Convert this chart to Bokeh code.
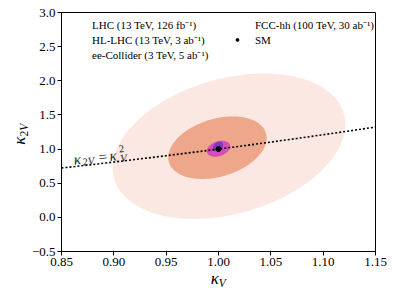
import numpy as np
from bokeh.plotting import figure
from bokeh.layouts import row, column
from bokeh.models import (Range1d, FixedTicker, Legend, LegendItem, Label, Div)
from bokeh.embed import file_html
from bokeh.resources import INLINE

# ---------------- data ----------------
names = ["LHC (13 TeV, 126 fb⁻¹)", "HL-LHC (13 TeV, 3 ab⁻¹)",
         "ee-Collider (3 TeV, 5 ab⁻¹)", "FCC-hh (100 TeV, 30 ab⁻¹)"]
colors = ["#fbe8e3", "#efa78b", "#d94bb8", "#7b39c4"]
# ellipse regions: centre, half-extent along each axis, correlation
kv_center = [1.010, 0.999, 1.000, 0.9995]
k2v_center = [1.042, 1.020, 1.005, 1.039]
kv_halfwidth = [0.1111, 0.0470, 0.0111, 0.0049]
k2v_halfwidth = [1.064, 0.458, 0.117, 0.070]
correlation = [0.30, 0.31, 0.30, 0.30]

kv_line = [0.85, 0.875, 0.90, 0.925, 0.95, 0.975, 1.00, 1.025, 1.05, 1.075, 1.10, 1.125, 1.15]
k2v_line = [0.7225, 0.765625, 0.81, 0.855625, 0.9025, 0.950625, 1.0, 1.050625,
            1.1025, 1.155625, 1.21, 1.265625, 1.3225]

sm_kv = [1.0]
sm_k2v = [1.0]

xticks = [0.85, 0.90, 0.95, 1.00, 1.05, 1.10, 1.15]
yticks = [-0.5, 0.0, 0.5, 1.0, 1.5, 2.0, 2.5, 3.0]
xtick_labels = ["0.85", "0.90", "0.95", "1.00", "1.05", "1.10", "1.15"]
ytick_labels = ["−0.5", "0.0", "0.5", "1.0", "1.5", "2.0", "2.5", "3.0"]

SERIF = "Liberation Serif"

# ---------------- figure ----------------
p = figure(width=361, height=275, output_backend="svg", toolbar_location=None,
           x_range=Range1d(0.85, 1.15), y_range=Range1d(-0.5, 3.0),
           min_border_left=31, min_border_right=14, min_border_top=12, min_border_bottom=24)
p.grid.visible = False
p.outline_line_color = "black"
p.outline_line_width = 1
p.background_fill_color = "white"
p.border_fill_color = "white"

t = np.linspace(0, 2 * np.pi, 160)
xs, ys = [], []
for cx, cy, hx, hy, r in zip(kv_center, k2v_center, kv_halfwidth, k2v_halfwidth, correlation):
    xs.append(cx + hx * np.cos(t))
    ys.append(cy + hy * (r * np.cos(t) + np.sqrt(1 - r * r) * np.sin(t)))
regions = []
for i in range(4):
    regions.append(p.patch(xs[i], ys[i], fill_color=colors[i], line_color=None))

p.line(kv_line, k2v_line, line_color="black", line_width=1.6, line_dash="2 2")
sm = p.scatter(sm_kv, sm_k2v, size=5, color="black")

# axes
for ax, ticks, labs in ((p.xaxis, xticks, xtick_labels), (p.yaxis, yticks, ytick_labels)):
    ax.ticker = FixedTicker(ticks=ticks)
    ax.major_label_overrides = {tk: l for tk, l in zip(ticks, labs)}
    ax.major_tick_out = 4
    ax.major_tick_in = 0
    ax.minor_tick_line_color = None
    ax.axis_line_color = "black"
    ax.major_tick_line_color = "black"
    ax.major_label_text_font = SERIF
    ax.major_label_text_font_size = "13px"
    ax.major_label_text_color = "black"
    ax.major_label_standoff = 2

# legends (rectangular swatches via empty quads)
swatches = []
for c in colors:
    swatches.append(p.quad(left=[], right=[], top=[], bottom=[], fill_color=c, line_color=None))

common = dict(orientation="vertical", glyph_width=20, glyph_height=7, label_height=15,
              spacing=0, padding=0, margin=0, label_standoff=8, border_line_color=None,
              background_fill_alpha=0, label_text_font=SERIF, label_text_font_size="11px",
              label_text_color="black")
leg1 = Legend(items=[LegendItem(label=names[i], renderers=[swatches[i]]) for i in range(3)],
              location=(3, 189), **common)
leg2 = Legend(items=[LegendItem(label=names[3], renderers=[swatches[3]]),
                     LegendItem(label="SM", renderers=[sm])],
              location=(166, 204), **common)
p.add_layout(leg1)
p.add_layout(leg2)

# in-plot annotation along the curve
a = np.deg2rad(6.0)
pieces = [("κ", 0.0, 0.0, "15px", True), ("2", 8.5, -3.0, "10.5px", False),
          ("V", 14.0, -3.0, "10.5px", True),
          ("=", 25.0, 0.0, "15px", False), ("κ", 36.0, 0.0, "15px", True),
          ("V", 46.5, -3.5, "10.5px", True), ("2", 46.0, 6.0, "10.5px", False)]
for tx, d, h, s, it in pieces:
    dx = d * np.cos(a) - h * np.sin(a)
    dy = d * np.sin(a) + h * np.cos(a)
    p.add_layout(Label(x=0.8617, y=0.8426, text=tx, x_offset=dx, y_offset=dy, angle=a,
                       text_font=SERIF, text_font_size=s,
                       text_font_style="italic" if it else "normal",
                       text_baseline="alphabetic", text_color="#222222"))

# axis titles (HTML, so that sub-scripts stay real text)
font_css = ("font-family:'Liberation Serif';font-style:italic;font-size:17px;"
            "line-height:17px;color:black;white-space:nowrap;")
ylab_html = ('<div style="position:relative;width:28px;height:297px;">'
             '<div style="position:absolute;left:0;top:0;transform-origin:0 0;'
             'transform:translate(10.5px,144.7px) rotate(-90deg);' + font_css + '">'
             'κ<span style="font-size:11.5px;position:relative;top:3px;">'
             '<span style="font-style:normal;">2</span>V</span></div></div>')
xlab_html = ('<div style="position:relative;width:361px;height:22px;">'
             '<div style="position:absolute;left:182.7px;top:-4.75px;' + font_css + '">'
             'κ<span style="font-size:11.5px;position:relative;top:3px;">V</span>'
             '</div></div>')
ydiv = Div(text=ylab_html, width=28, height=297, margin=0, styles={"overflow": "visible"})
xdiv = Div(text=xlab_html, width=361, height=22, margin=0, styles={"overflow": "visible"})

layout = row(ydiv, column(p, xdiv, spacing=0), spacing=0)

open("out.html", "w").write(file_html(layout, INLINE))
